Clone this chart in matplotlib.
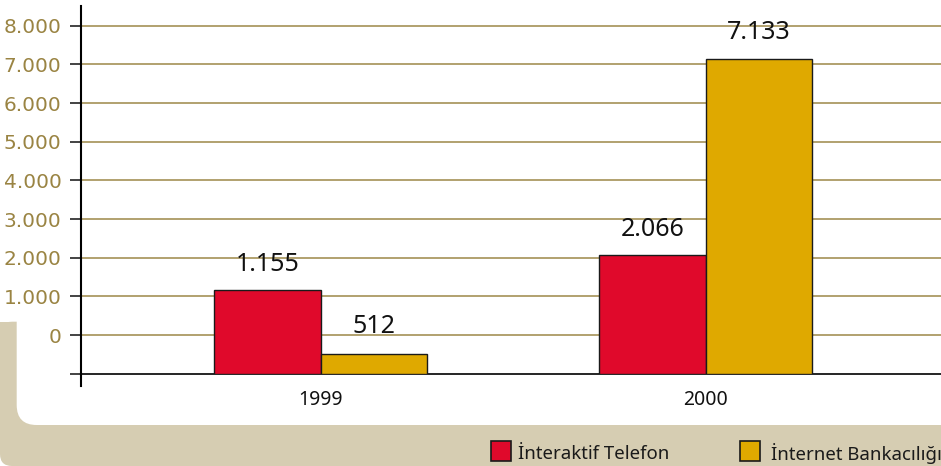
import matplotlib.pyplot as plt
from matplotlib.patches import FancyBboxPatch, Rectangle
from matplotlib.lines import Line2D

plt.rcParams['font.family'] = ['Noto Sans', 'DejaVu Sans']
plt.rcParams['font.weight'] = 'medium'

# data
years = ['1999', '2000']
interaktif = [1155, 2066]
internet = [512, 7133]
# bar tops as drawn in the original (the 512 bar is drawn from the base line)
interaktif_top = [1155, 2066]
internet_top = [-488, 7133]
yticks = [-1000, 0, 1000, 2000, 3000, 4000, 5000, 6000, 7000, 8000]
ytick_labels = ['', '0', '1.000', '2.000', '3.000', '4.000', '5.000', '6.000', '7.000', '8.000']
series_names = ['İnteraktif Telefon', 'İnternet Bankacılığı']

red = '#e0092b'
gold = '#dfa900'
tan = '#d6cdb2'
olive = '#9a8443'
grid_c = '#ab9a63'

W, H = 941, 466
fig = plt.figure(figsize=(W / 100, H / 100), dpi=100)
px = fig.dpi_scale_trans

# background frame
fig.patches.append(FancyBboxPatch((0, 0), 10.5, (H - 321.7) / 100,
                                  boxstyle='round,pad=0,rounding_size=0.12',
                                  fc=tan, ec='none', transform=px, zorder=-3))
fig.patches.append(Rectangle((0, (H - 321.7) / 100 - 0.3), 0.3, 0.3,
                             fc=tan, ec='none', transform=px, zorder=-3))
fig.patches.append(FancyBboxPatch((16.7 / 100, (H - 425) / 100), 10.5, 2.0,
                                  boxstyle='round,pad=0,rounding_size=0.2',
                                  fc='white', ec='none', transform=px, zorder=-2))

ax = fig.add_axes([81 / W, (H - 373.7) / H, 1 - 81 / W, (373.7 - 6) / H])
ax.patch.set_visible(False)

x = [0, 1]
w = 0.2766
b1 = ax.bar([i - w / 2 for i in x], [t + 1000 for t in interaktif_top], w, bottom=-1000,
            color=red, edgecolor='#1a1a1a', linewidth=1, zorder=3)
b2 = ax.bar([i + w / 2 for i in x], [t + 1000 for t in internet_top], w, bottom=-1000,
            color=gold, edgecolor='#1a1a1a', linewidth=1, zorder=3)

for i in x:
    ax.annotate(f'{interaktif[i]:,}'.replace(',', '.'), (i - w / 2, interaktif_top[i]),
                xytext=(0, 26), textcoords='offset pixels', ha='center', va='center',
                fontsize=18, color='#111111')
    ax.annotate(f'{internet[i]:,}'.replace(',', '.'), (i + w / 2, internet_top[i]),
                xytext=(0, 27), textcoords='offset pixels', ha='center', va='center',
                fontsize=18, color='#111111')

ax.set_xlim(-0.6226, 1.611)
ax.set_ylim(-1000, 8510)
for y in yticks[1:]:
    ax.axhline(y, color=grid_c, lw=1.3, zorder=1)

ax.set_yticks(yticks)
ax.set_yticklabels(ytick_labels, fontsize=14.5, color=olive, family='DejaVu Sans')
ax.tick_params(axis='y', length=8, width=1.2, color='#222222', pad=6)
ax.set_xticks(x)
ax.set_xticklabels(years, fontsize=14, color='#111111')
ax.tick_params(axis='x', length=0, pad=12)

for s in ['top', 'right']:
    ax.spines[s].set_visible(False)
ax.spines['bottom'].set_linewidth(1.2)
ax.spines['left'].set_linewidth(1.5)
ax.add_line(Line2D([0, 0], [-12 / 367.7, 0], transform=ax.transAxes, color='black',
                   lw=1.5, clip_on=False))

# legend
colors = [red, gold]
sq_x = [491, 740]
txt_x = [518, 771]
for c, sx, tx, name in zip(colors, sq_x, txt_x, series_names):
    fig.patches.append(Rectangle((sx / 100, (H - 461) / 100), 0.2, 0.2, fc=c, ec='#1a1a1a',
                                 lw=1.2, transform=px))
    fig.text(tx / W, (H - 454) / H, name, fontsize=13.4, color='#1a1a1a', va='center')

fig.savefig('out.png', dpi=100)
